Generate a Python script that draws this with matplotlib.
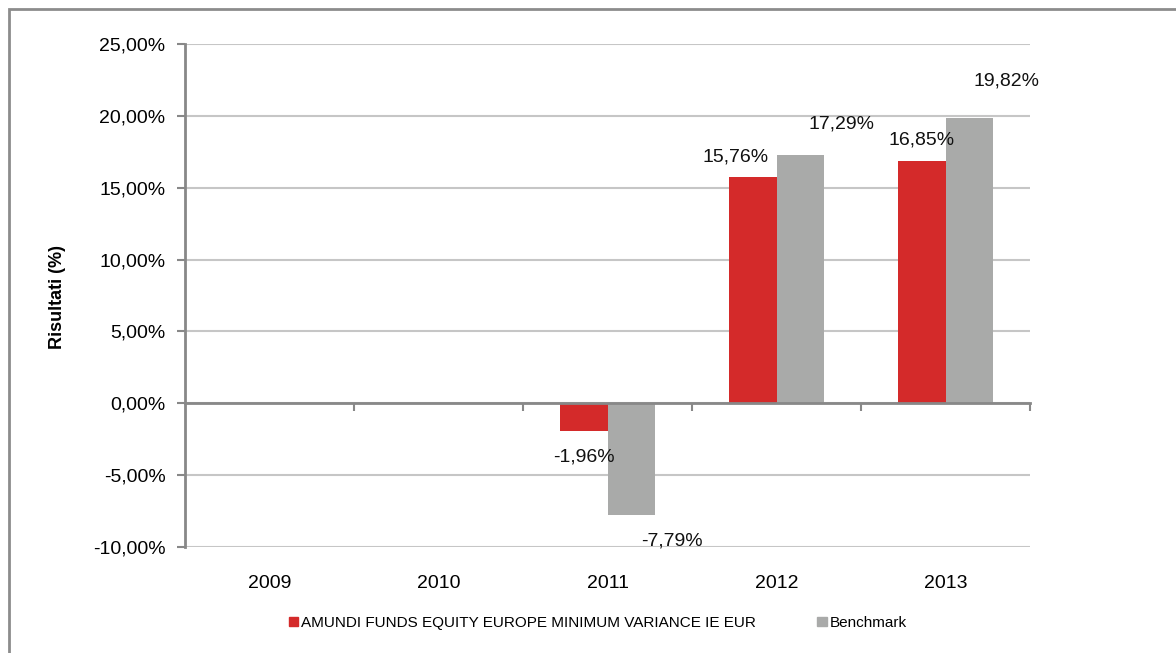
import numpy as np
import matplotlib.pyplot as plt
from matplotlib.patches import Rectangle, Patch
from matplotlib.ticker import FuncFormatter, FixedLocator

plt.rcParams['font.family'] = ['Liberation Sans', 'DejaVu Sans']

years = ['2009', '2010', '2011', '2012', '2013']
fund = [np.nan, np.nan, -1.96, 15.76, 16.85]
benchmark = [np.nan, np.nan, -7.79, 17.29, 19.82]
fund_name = 'AMUNDI FUNDS EQUITY EUROPE MINIMUM VARIANCE IE EUR'
bench_name = 'Benchmark'

red = '#D42A2A'
grey = '#A9AAA9'
axis_col = '#888888'
grid_col = '#C6C6C6'

# label offsets in pixels (dx, dy) from the bar end, as placed in the original
fund_off = [None, None, (0, -26), (-17, 20), (0, 21)]
bench_off = [None, None, (40, -26), (41, 31), (37, 37)]

fig = plt.figure(figsize=(11.76, 6.53), dpi=100)
ax = fig.add_axes([185 / 1176, 1 - 547 / 653, 845 / 1176, 503 / 653])

x = np.arange(len(years))
w = 0.284
ax.bar(x - w / 2, fund, w, color=red, zorder=3)
ax.bar(x + w / 2, benchmark, w, color=grey, zorder=3)

def fmt(v):
    return f'{v:.2f}'.replace('.', ',') + '%'

for i in range(len(years)):
    for vals, offs, xc in ((fund, fund_off, x[i] - w / 2), (benchmark, bench_off, x[i] + w / 2)):
        v = vals[i]
        if np.isnan(v):
            continue
        ax.annotate(fmt(v), (xc, v), xytext=offs[i], textcoords='offset pixels',
                    ha='center', va='center', fontsize=14, color='#111111', zorder=4)

ax.set_xlim(-0.5, len(years) - 0.5)
ax.set_ylim(-10, 25)
ax.set_yticks(np.arange(-10, 26, 5))
ax.yaxis.set_major_formatter(FuncFormatter(lambda v, p: f'{v:.2f}'.replace('.', ',') + '%'))
ax.tick_params(axis='y', labelsize=14, length=6, width=1.5, color=axis_col, pad=8)
ax.grid(axis='y', color=grid_col, linewidth=1.5, zorder=0)

for s in ['top', 'right']:
    ax.spines[s].set_visible(False)
ax.spines['left'].set_color(axis_col)
ax.spines['left'].set_linewidth(2)
ax.spines['bottom'].set_position(('data', 0))
ax.spines['bottom'].set_color(axis_col)
ax.spines['bottom'].set_linewidth(2)
ax.spines['bottom'].set_zorder(3.5)
ax.xaxis.set_major_locator(FixedLocator(np.arange(0.5, len(years), 1)))
ax.set_xticklabels([])
ax.tick_params(axis='x', length=6, width=1.5, color=axis_col, direction='out')

for i, yr in enumerate(years):
    ax.text(x[i], -36 / 503, yr, transform=ax.get_xaxis_transform(),
            ha='center', va='center', fontsize=14)

fig.text(57 / 1176, 1 - 297 / 653, 'Risultati (%)', rotation=90, ha='center', va='center',
         fontsize=13, fontweight='bold')

handles = [Patch(color=red, label=fund_name), Patch(color=grey, label=bench_name)]
fig.legend(handles=handles, loc='center', bbox_to_anchor=(598 / 1176, 1 - 623 / 653), ncol=2,
           frameon=False, fontsize=11, handlelength=0.6, handleheight=0.6,
           handletextpad=0.2, columnspacing=4.0)

fig.patches.append(Rectangle((8.5 / 1176, -0.1), 1.2, 1.1 - 9 / 653, transform=fig.transFigure,
                             fill=False, edgecolor='#8C8C8C', linewidth=2))

fig.savefig('out.png', dpi=100)
